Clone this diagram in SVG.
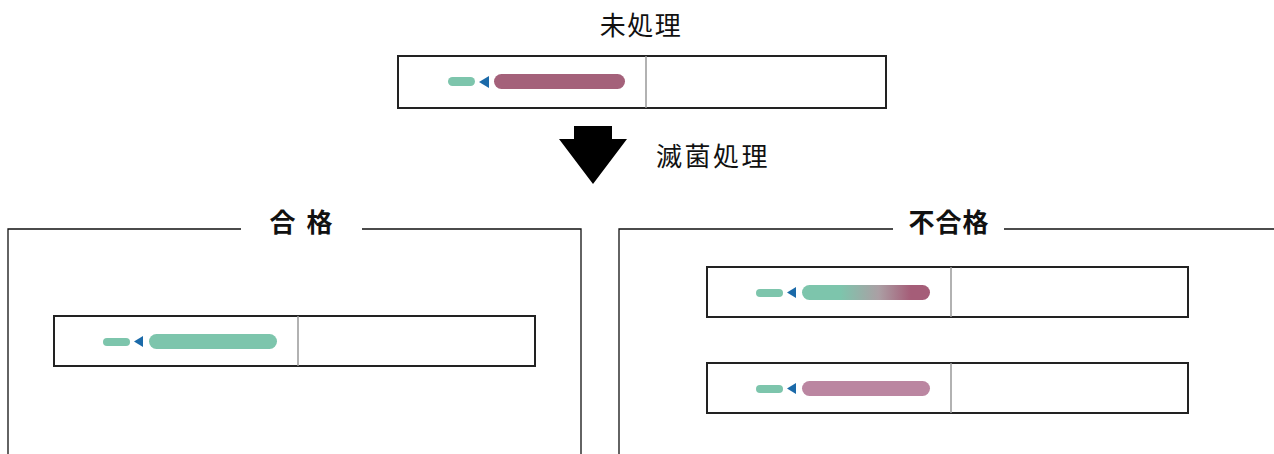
<svg xmlns="http://www.w3.org/2000/svg" width="1274" height="454" viewBox="0 0 1274 454">
<style>
.t{font-family:"Noto Sans CJK JP","Noto Sans CJK SC",sans-serif;font-size:26px;fill:#111;}
.b{font-weight:bold;}
.strip{fill:#fff;stroke:#222;stroke-width:2;}
.div{stroke:#999;stroke-width:1.5;}
.panel{fill:none;stroke:#111;stroke-width:1.3;}
.g{fill:#7dc5ac;}
.tri{fill:#1b6aa9;}
.m{fill:#a4617a;}
.p{fill:#bb86a1;}
</style>
<defs>
<linearGradient id="grad" x1="0" y1="0" x2="1" y2="0">
<stop offset="0" stop-color="#7dc5ac"/>
<stop offset="0.3" stop-color="#7dc5ac"/>
<stop offset="0.6" stop-color="#ab9fa4"/>
<stop offset="0.85" stop-color="#a55d78"/>
<stop offset="1" stop-color="#a55d78"/>
</linearGradient>
</defs>

<g id="title-untreated">
<text class="t" x="641" y="35" text-anchor="middle" letter-spacing="1.5">未処理</text>
</g>

<g id="strip-untreated">
<rect class="strip" x="398" y="56" width="488" height="52"/>
<line class="div" x1="646" y1="56" x2="646" y2="108"/>
<rect class="g" x="448" y="77" width="27" height="9" rx="4.5"/>
<polygon class="tri" points="489,76 489,88 479,82"/>
<rect class="m" x="494" y="74" width="131" height="15" rx="7.5"/>
</g>

<g id="arrow-sterilize">
<polygon points="574,126 612,126 612,139 627,139 593,184 559,139 574,139" fill="#000"/>
<text class="t" x="656" y="166" letter-spacing="2.5">滅菌処理</text>
</g>

<g id="panel-pass">
<polyline class="panel" points="241,229 8,229 8,454"/>
<polyline class="panel" points="362,229 581,229 581,454"/>
<text class="t b" x="301" y="232" text-anchor="middle" font-size="27">合 <tspan dx="5">格</tspan></text>
</g>

<g id="strip-pass">
<rect class="strip" x="54" y="316" width="481" height="50"/>
<line class="div" x1="298" y1="316" x2="298" y2="366"/>
<rect class="g" x="103" y="338" width="27" height="8" rx="4"/>
<polygon class="tri" points="143,336 143,347 134,341.5"/>
<rect class="g" x="149" y="334" width="128" height="15" rx="7.5"/>
</g>

<g id="panel-fail">
<polyline class="panel" points="893,229 619,229 619,454"/>
<line class="panel" x1="1004" y1="229" x2="1274" y2="229"/>
<text class="t b" x="949" y="232" text-anchor="middle" letter-spacing="1">不合格</text>
</g>

<g id="strip-fail-1">
<rect class="strip" x="707" y="267" width="481" height="50"/>
<line class="div" x1="951" y1="267" x2="951" y2="317"/>
<rect class="g" x="756" y="289" width="27" height="8" rx="4"/>
<polygon class="tri" points="796,287 796,298 787,292.5"/>
<rect x="802" y="285" width="128" height="15" rx="7.5" fill="url(#grad)"/>
</g>

<g id="strip-fail-2">
<rect class="strip" x="707" y="363" width="481" height="50"/>
<line class="div" x1="951" y1="363" x2="951" y2="413"/>
<rect class="g" x="756" y="385" width="27" height="8" rx="4"/>
<polygon class="tri" points="796,383 796,394 787,388.5"/>
<rect class="p" x="802" y="381" width="128" height="15" rx="7.5"/>
</g>

<g id="connectors"></g>
</svg>
